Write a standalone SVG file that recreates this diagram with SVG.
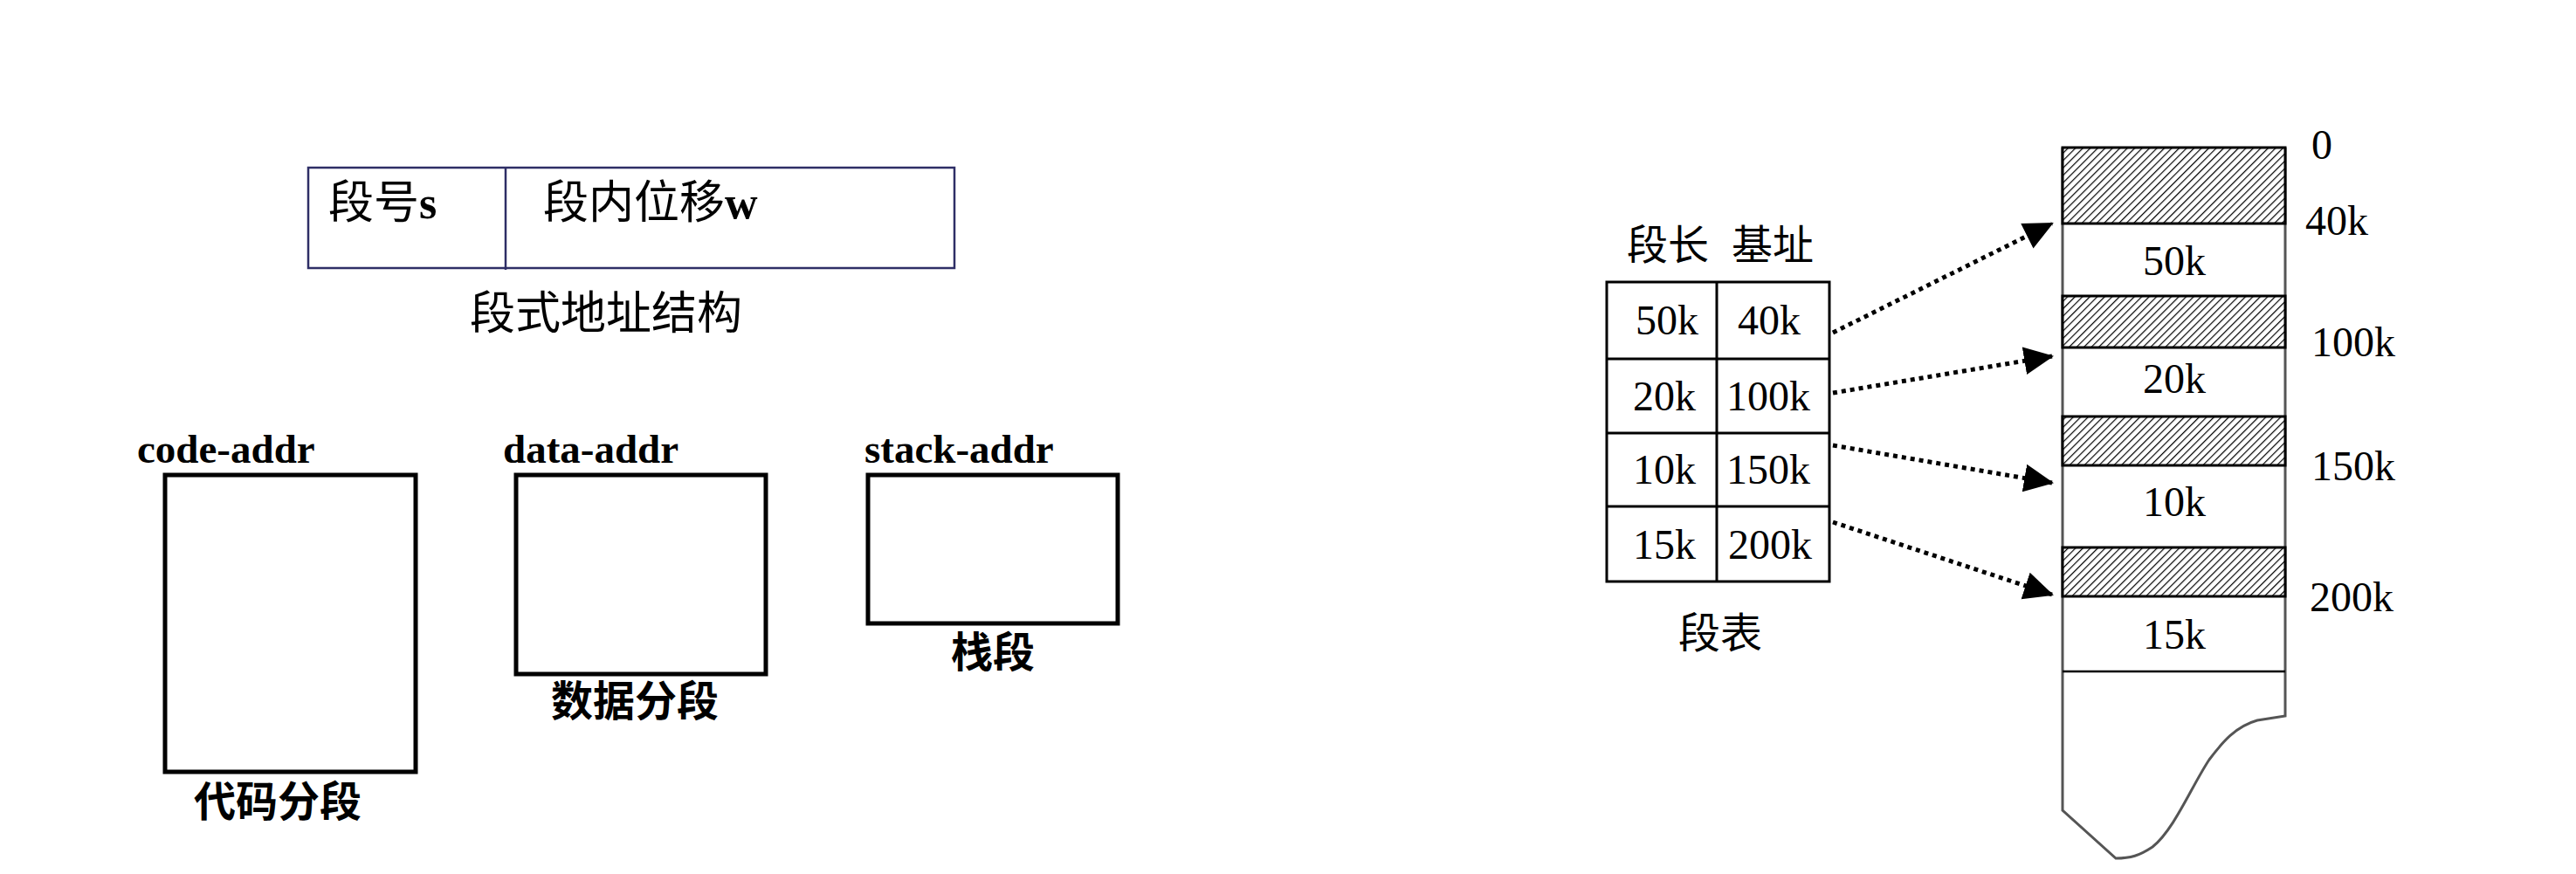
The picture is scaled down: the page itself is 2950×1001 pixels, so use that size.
<svg xmlns="http://www.w3.org/2000/svg" width="2950" height="1001" viewBox="0 0 2950 1001">
<style>
.cjk{font-family:"Noto Sans CJK SC","Noto Sans CJK JP",sans-serif;}
.ser{font-family:"Liberation Serif","Noto Sans CJK SC",serif;}
.bold{font-weight:bold;}
.seg{fill:#fff;stroke:#000;stroke-width:5;}
.hatch{fill:url(#hp);stroke:#000;stroke-width:3;}
.num{font-family:"Liberation Serif",serif;font-size:48px;fill:#000;}
.dot{fill:none;stroke:#000;stroke-width:5;stroke-dasharray:5 5;}
</style>
<defs>
<pattern id="hp" patternUnits="userSpaceOnUse" width="6" height="6" patternTransform="rotate(45)">
<rect width="6" height="6" fill="#fff"/>
<line x1="0" y1="0" x2="0" y2="6" stroke="#000" stroke-width="2.4"/>
</pattern>
<marker id="ah" markerUnits="userSpaceOnUse" markerWidth="34" markerHeight="34" viewBox="0 0 34 34" refX="32" refY="17" orient="auto">
<path d="M0,1 L34,17 L0,33 Z" fill="#000"/>
</marker>
</defs>
<rect width="2950" height="1001" fill="#fff"/>

<g id="address-structure">
<rect x="353" y="192" width="740" height="115" fill="#fff" stroke="#2e2e66" stroke-width="2.5"/>
<line x1="579" y1="192" x2="579" y2="309" stroke="#2e2e66" stroke-width="2.5"/>
<text x="376" y="250" font-size="52" class="cjk">段号<tspan class="ser bold">s</tspan></text>
<text x="622" y="250" font-size="52" class="cjk">段内位移<tspan class="ser bold">w</tspan></text>
<text x="694" y="377" font-size="52" class="cjk" text-anchor="middle">段式地址结构</text>
</g>

<g id="code-segment">
<text x="157" y="530" font-size="47" class="ser bold">code-addr</text>
<rect x="189" y="544" width="287" height="340" class="seg"/>
<text x="318" y="935" font-size="48" class="cjk bold" text-anchor="middle">代码分段</text>
</g>

<g id="data-segment">
<text x="576" y="530" font-size="47" class="ser bold">data-addr</text>
<rect x="591" y="544" width="286" height="228" class="seg"/>
<text x="727" y="820" font-size="48" class="cjk bold" text-anchor="middle">数据分段</text>
</g>

<g id="stack-segment">
<text x="990" y="530" font-size="47" class="ser bold">stack-addr</text>
<rect x="994" y="544" width="286" height="170" class="seg"/>
<text x="1137" y="764" font-size="48" class="cjk bold" text-anchor="middle">栈段</text>
</g>

<g id="segment-table">
<text y="297" font-size="47" class="cjk"><tspan x="1863">段长</tspan> <tspan x="1983">基址</tspan></text>
<rect x="1840" y="323" width="255" height="343" fill="#fff" stroke="#000" stroke-width="3"/>
<line x1="1966" y1="323" x2="1966" y2="666" stroke="#000" stroke-width="3"/>
<line x1="1840" y1="411" x2="2095" y2="411" stroke="#000" stroke-width="3"/>
<line x1="1840" y1="496" x2="2095" y2="496" stroke="#000" stroke-width="3"/>
<line x1="1840" y1="580" x2="2095" y2="580" stroke="#000" stroke-width="3"/>
<text x="1909" y="383" class="num" text-anchor="middle">50k</text>
<text x="2026" y="383" class="num" text-anchor="middle">40k</text>
<text x="1906" y="470" class="num" text-anchor="middle">20k</text>
<text x="2025" y="470" class="num" text-anchor="middle">100k</text>
<text x="1906" y="554" class="num" text-anchor="middle">10k</text>
<text x="2025" y="554" class="num" text-anchor="middle">150k</text>
<text x="1906" y="640" class="num" text-anchor="middle">15k</text>
<text x="2027" y="640" class="num" text-anchor="middle">200k</text>
<text x="1970" y="742" font-size="48" class="cjk" text-anchor="middle">段表</text>
</g>

<g id="memory">
<path d="M2362,169 L2362,928 L2423,983 C2440,983 2450,980 2465,970 C2490,950 2510,900 2530,870 C2545,850 2560,832 2585,825 L2617,820 L2617,169" fill="#fff" stroke="#555" stroke-width="3"/>
<rect x="2362" y="169" width="255" height="87" class="hatch"/>
<rect x="2362" y="339" width="255" height="59" class="hatch"/>
<rect x="2362" y="477" width="255" height="56" class="hatch"/>
<rect x="2362" y="627" width="255" height="56" class="hatch" stroke-width="4"/>
<line x1="2362" y1="769" x2="2617" y2="769" stroke="#000" stroke-width="2.5"/>
<text x="2490" y="315" class="num" text-anchor="middle">50k</text>
<text x="2490" y="450" class="num" text-anchor="middle">20k</text>
<text x="2490" y="591" class="num" text-anchor="middle">10k</text>
<text x="2490" y="743" class="num" text-anchor="middle">15k</text>
<text x="2647" y="182" class="num">0</text>
<text x="2640" y="269" class="num">40k</text>
<text x="2647" y="408" class="num">100k</text>
<text x="2647" y="550" class="num">150k</text>
<text x="2645" y="700" class="num">200k</text>
</g>

<g id="connectors">
<line x1="2099" y1="381" x2="2350" y2="256" class="dot" marker-end="url(#ah)"/>
<line x1="2099" y1="450" x2="2350" y2="408" class="dot" marker-end="url(#ah)"/>
<line x1="2099" y1="510" x2="2350" y2="553" class="dot" marker-end="url(#ah)"/>
<line x1="2099" y1="598" x2="2350" y2="681" class="dot" marker-end="url(#ah)"/>
</g>
</svg>
